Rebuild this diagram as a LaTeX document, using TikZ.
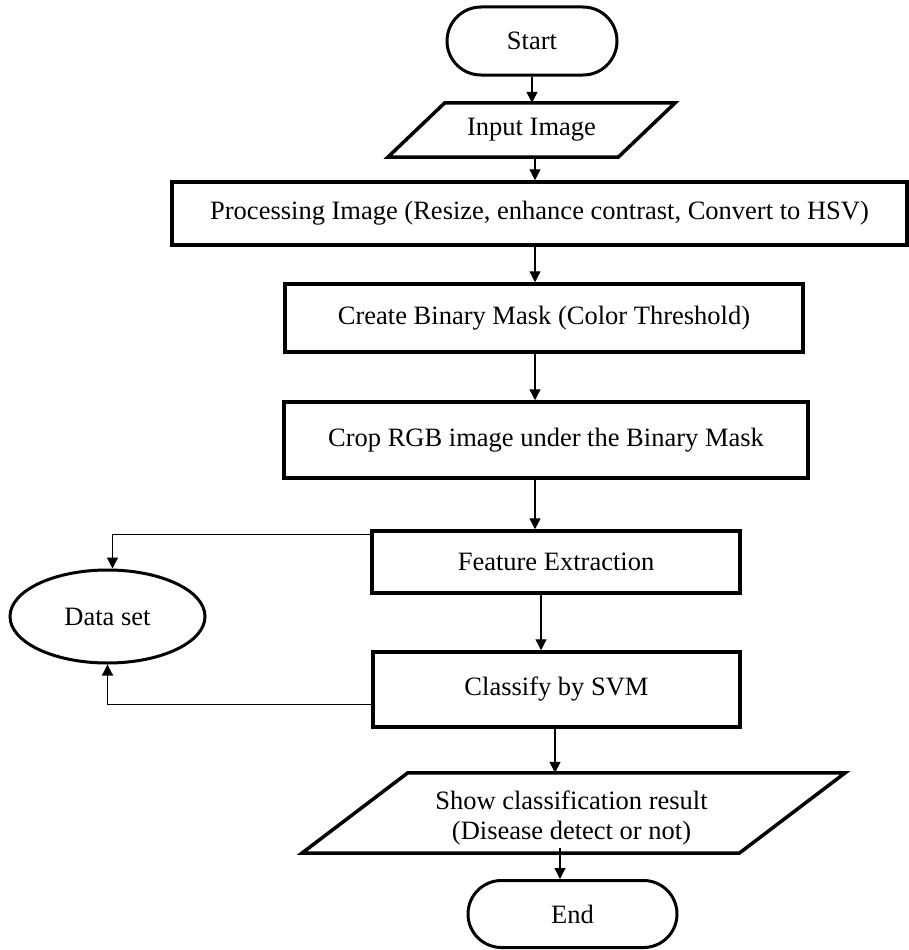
\documentclass[tikz,border=0pt]{standalone}
\usepackage{fontspec}
\setmainfont{Liberation Serif}
\usetikzlibrary{arrows.meta,shapes.geometric,shapes.misc,calc}
\begin{document}
\begin{tikzpicture}[x=1pt,y=-1pt,
  every node/.style={font=\fontsize{26.5}{30}\selectfont, inner sep=0pt, text=black},
  box/.style={draw, rectangle, line width=3.5pt},
  term/.style={draw, rounded rectangle, line width=3pt},
  iobox/.style={rectangle, align=center},
  ioline/.style={line width=3.5pt, line join=miter},
  dsnode/.style={draw, ellipse, line width=3pt},
  arr/.style={line width=1.3pt, -{Triangle[length=11pt,width=11pt]}},
  link/.style={line width=1.3pt}
]
\useasboundingbox (0,0) rectangle (909,950);

% nodes
\node[term, minimum width=170pt, minimum height=68pt] (start) at (532,41) {Start};
\node[iobox, minimum width=230pt, minimum height=54pt] (in) at (531.5,130) {Input Image};
\draw[ioline] ($(in.north west)+(28.5,0)$) -- ($(in.north east)+(28.5,0)$) -- ($(in.south east)+(-28.5,0)$) -- ($(in.south west)+(-28.5,0)$) -- cycle;
\node[box, minimum width=735pt, minimum height=63pt] (pro) at (539.5,213.5) {Processing Image (Resize, enhance contrast, Convert to HSV)};
\node[box, minimum width=518pt, minimum height=68pt] (cre) at (544,318) {Create Binary Mask (Color Threshold)};
\node[box, minimum width=524pt, minimum height=76pt] (crop) at (546,440) {Crop RGB image under the Binary Mask};
\node[box, minimum width=368pt, minimum height=62pt] (fe) at (556,562) {Feature Extraction};
\node[box, minimum width=367pt, minimum height=75pt] (cls) at (556.5,689.5) {Classify by SVM};
\node[dsnode, minimum width=195pt, minimum height=93pt] (ds) at (107.5,616.5) {Data set};
\node[iobox, minimum width=437pt, minimum height=80pt, text depth=0pt] (show) at (573.5,813) {};
\node (showtxt) at ($(show.center)+(-2,5)$) [align=center] {Show classification result\\(Disease detect or not)};
\draw[ioline] ($(show.north west)+(53,0)$) -- ($(show.north east)+(53,0)$) -- ($(show.south east)+(-53,0)$) -- ($(show.south west)+(-53,0)$) -- cycle;
\node[term, minimum width=209pt, minimum height=67pt] (end) at (572.5,914) {End};

% columns for the vertical connectors
\coordinate (col) at (535,0);
\coordinate (colb) at (541,0);
\coordinate (colc) at (555,0);
\coordinate (cold) at (560,0);

% connectors
\draw[arr] (start.south) -- (start.south |- in.north);
\draw[arr] (in.south -| col) -- (pro.north -| col);
\draw[arr] (pro.south -| col) -- (cre.north -| col);
\draw[arr] (cre.south -| col) -- (crop.north -| col);
\draw[arr] (crop.south -| col) -- (fe.north -| col);
\draw[arr] (fe.south -| colb) -- (cls.north -| colb);
\draw[arr] (cls.south -| colc) -- (show.north -| colc);
\draw[arr] ($(show.south -| cold)+(0,-5)$) -- (end.north -| cold);
\draw[arr] ($(fe.north west)+(0,5)$) -| ([xshift=5pt]ds.north);
\draw[arr] ($(cls.south west)+(0,-24)$) -| (ds.south);
\end{tikzpicture}
\end{document}
